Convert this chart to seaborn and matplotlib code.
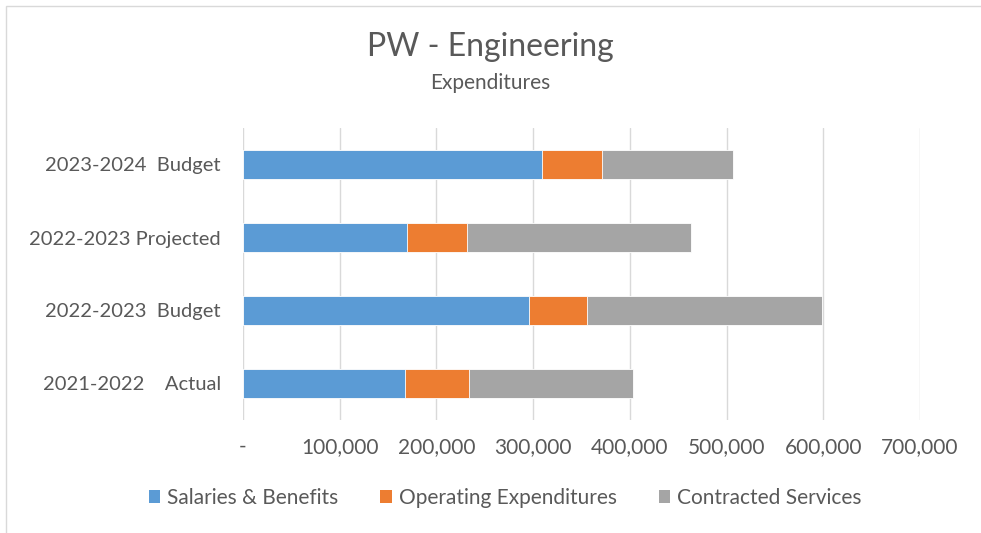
import matplotlib
matplotlib.use("Agg")
import matplotlib.pyplot as plt
import seaborn as sns
import pandas as pd
import numpy as np
from matplotlib.patches import Rectangle, Patch
from matplotlib.ticker import FuncFormatter

categories = ["2023-2024  Budget", "2022-2023 Projected", "2022-2023  Budget", "2021-2022    Actual"]
salaries = [309000, 170000, 296000, 168000]
operating = [62000, 61500, 60000, 66000]
contracted = [136000, 231500, 243000, 169000]
series_names = ["Salaries & Benefits", "Operating Expenditures", "Contracted Services"]
colors = ["#5B9BD5", "#ED7D31", "#A5A5A5"]
xticks = [0, 100000, 200000, 300000, 400000, 500000, 600000, 700000]

sns.set_theme(style="white")
plt.rcParams['font.family'] = ['Lato', 'DejaVu Sans']
text_color = "#595959"

s = np.array(salaries, dtype=float)
o = np.array(operating, dtype=float)
c = np.array(contracted, dtype=float)
df = pd.DataFrame({
    "cat": categories,
    "sal": s,
    "op": s + o,
    "tot": s + o + c,
})

fig = plt.figure(figsize=(9.81, 5.33), dpi=100)
ax = fig.add_axes([243/981, 1 - 420/533, (920 - 243)/981, (420 - 128)/533])

for col, color in zip(["tot", "op", "sal"], colors[::-1]):
    sns.barplot(data=df, y="cat", x=col, order=categories, color=color,
                orient="h", width=0.4, ax=ax, saturation=1, zorder=3,
                edgecolor="white", linewidth=0.6)

ax.set_xlim(0, 700000)
ax.set_xticks(xticks)
ax.xaxis.set_major_formatter(FuncFormatter(lambda v, p: "-" if v == 0 else f"{int(v):,}"))
ax.grid(axis="x", color="#D9D9D9", linewidth=1, zorder=0)
ax.grid(axis="y", visible=False)
for sp in ax.spines.values():
    sp.set_visible(False)
ax.set_xlabel("")
ax.set_ylabel("")
ax.tick_params(axis="x", colors=text_color, labelsize=15, pad=12, length=0)
ax.tick_params(axis="y", colors=text_color, labelsize=14.5, pad=16, length=0)
for lab in ax.get_xticklabels():
    lab.set_color(text_color)
for lab in ax.get_yticklabels():
    lab.set_color(text_color)

fig.text(0.5, 1 - 47/533, "PW - Engineering", ha="center", va="center",
         fontsize=23, color=text_color)
fig.text(0.5, 1 - 83/533, "Expenditures", ha="center", va="center",
         fontsize=15, color=text_color)

handles = [Patch(facecolor=col, edgecolor="none") for col in colors]
fig.legend(handles, series_names, loc="center", bbox_to_anchor=(0.515, 1 - 498/533),
           ncol=3, frameon=False, fontsize=15, handlelength=0.55, handleheight=0.55,
           columnspacing=2.0, handletextpad=0.35, labelcolor=text_color)

fig.patches.append(Rectangle((6/981, -0.1), 1.1, 1 - 6/533 + 0.1, transform=fig.transFigure,
                             fill=False, edgecolor="#D9D9D9", linewidth=1))

fig.savefig("out.png", dpi=100)
